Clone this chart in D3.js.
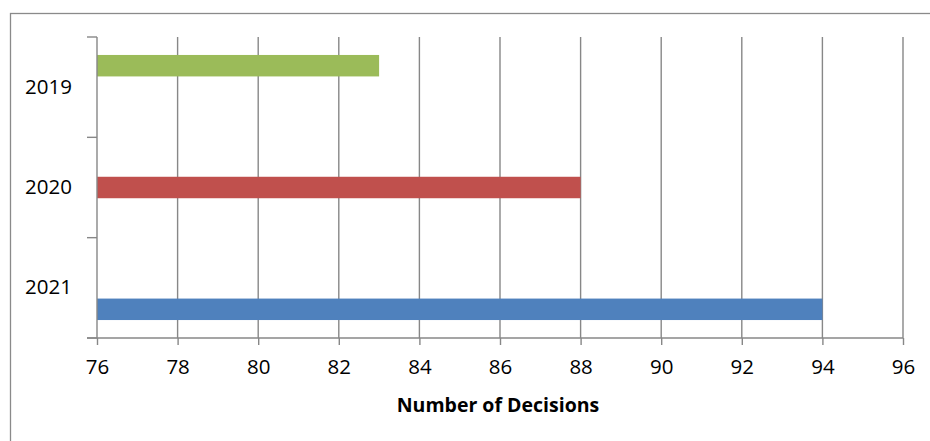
<!DOCTYPE html>
<html>
<head>
<meta charset="utf-8">
<script src="https://cdn.jsdelivr.net/npm/d3@7"></script>
<style>
  html, body { margin: 0; padding: 0; background: #fff; }
  svg { display: block; }
  text { font-family: "Open Sans", "Liberation Sans", sans-serif; fill: #000; }
</style>
</head>
<body>
<svg id="chart" width="930" height="441"></svg>
<script>
const categories = ["2019", "2020", "2021"];
const seriesNames = ["2019", "2020", "2021"];
const values = [83, 88, 94];
const colors = ["#9BBB59", "#C0504D", "#4F81BD"];
const xTicks = [76, 78, 80, 82, 84, 86, 88, 90, 92, 94, 96];
const xTitle = "Number of Decisions";

const svg = d3.select("#chart");
const W = 930, H = 441;

// outer chart border
svg.append("rect")
  .attr("x", 10.5).attr("y", 13.5)
  .attr("width", W).attr("height", H)
  .attr("fill", "#fff").attr("stroke", "#8a8a8a").attr("stroke-width", 1.3);

const plot = { left: 97, right: 903, top: 37, bottom: 338 };

const x = d3.scaleLinear().domain([76, 96]).range([plot.left, plot.right]);
const y = d3.scaleBand().domain(categories).range([plot.top, plot.bottom]).padding(0);
const slot = y.bandwidth() * 0.214;
const ySub = d3.scaleBand().domain(seriesNames)
  .range([y.bandwidth() / 2 - 1.5 * slot, y.bandwidth() / 2 + 1.5 * slot]).padding(0);

const gridColor = "#878787";

// vertical gridlines
svg.append("g").selectAll("line")
  .data(xTicks.slice(1))
  .join("line")
  .attr("x1", d => x(d)).attr("x2", d => x(d))
  .attr("y1", plot.top).attr("y2", plot.bottom)
  .attr("stroke", gridColor).attr("stroke-width", 1.4);

// bars
const bars = categories.map((c, i) => ({ cat: c, series: seriesNames[i], value: values[i], color: colors[i] }));
svg.append("g").selectAll("rect")
  .data(bars)
  .join("rect")
  .attr("x", x(76))
  .attr("y", d => y(d.cat) + ySub(d.series))
  .attr("width", d => x(d.value) - x(76))
  .attr("height", ySub.bandwidth())
  .attr("fill", d => d.color);

// x axis
const xAxis = d3.axisBottom(x).tickValues(xTicks).tickSize(7).tickSizeOuter(0).tickPadding(14);
const gx = svg.append("g").attr("transform", `translate(0,${plot.bottom})`).call(xAxis);
gx.select(".domain").attr("stroke", gridColor).attr("stroke-width", 1.4)
  .attr("d", `M${plot.left - 10},0H${plot.right}`);
gx.selectAll(".tick line").attr("stroke", gridColor).attr("stroke-width", 1.4);
gx.selectAll(".tick text").attr("font-size", 20.5).attr("font-family", "Open Sans, sans-serif").attr("fill", "#1a1a1a");

// y axis
const yAxis = d3.axisLeft(y).tickSize(0).tickPadding(25);
const gy = svg.append("g").attr("transform", `translate(${plot.left},0)`).call(yAxis);
gy.select(".domain").attr("stroke", gridColor).attr("stroke-width", 1.4)
  .attr("d", `M0,${plot.top}V${plot.bottom}`);
gy.selectAll(".tick text").attr("font-size", 20.5).attr("font-family", "Open Sans, sans-serif").attr("fill", "#1a1a1a");
// category boundary ticks
const bounds = categories.map(c => y(c)).concat([plot.bottom]);
svg.append("g").selectAll("line")
  .data(bounds)
  .join("line")
  .attr("x1", plot.left - 10).attr("x2", plot.left)
  .attr("y1", d => d).attr("y2", d => d)
  .attr("stroke", gridColor).attr("stroke-width", 1.4);

// x title
svg.append("text")
  .attr("x", 498).attr("y", 412)
  .attr("text-anchor", "middle")
  .attr("font-size", 19.5)
  .attr("font-weight", "bold")
  .attr("fill", "#1a1a1a")
  .text(xTitle);
</script>
</body>
</html>
